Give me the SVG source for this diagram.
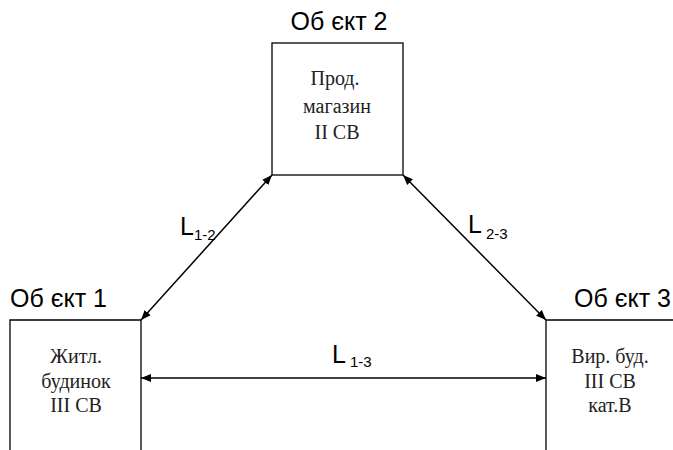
<svg xmlns="http://www.w3.org/2000/svg" width="673" height="450" viewBox="0 0 673 450">
<defs>
<marker id="ah" viewBox="0 0 10 10" refX="10" refY="5" markerWidth="10" markerHeight="10" markerUnits="userSpaceOnUse" orient="auto-start-reverse">
<path d="M0,1 L10,5 L0,9 Z" fill="#000"/>
</marker>
<style>
.box{fill:#fff;stroke:#000;stroke-width:1.3}
.title{font-family:"Liberation Sans",Arial,sans-serif;font-size:25px;fill:#000}
.body{font-family:"Liberation Serif","Times New Roman",serif;font-size:20px;fill:#222;text-anchor:middle}
.lab{font-family:"Liberation Sans",Arial,sans-serif;font-size:25px;fill:#000}
.sub{font-size:15px}
.con{stroke:#000;stroke-width:1.5;fill:none;marker-start:url(#ah);marker-end:url(#ah)}
</style>
</defs>
<rect width="673" height="450" fill="#fff"/>
<g id="node1">
<path class="box" d="M10,450 L10,320 L141,320 L141,450"/>
<text class="title" x="10" y="307">Об єкт 1</text>
<text class="body" x="76" y="363">Житл.</text>
<text class="body" x="76" y="388">будинок</text>
<text class="body" x="76" y="412">III СВ</text>
</g>
<g id="node2">
<rect class="box" x="272" y="43" width="131" height="132"/>
<text class="title" x="339" y="30" text-anchor="middle">Об єкт 2</text>
<text class="body" x="335" y="85">Прод.</text>
<text class="body" x="337" y="113">магазин</text>
<text class="body" x="337" y="139">II СВ</text>
</g>
<g id="node3">
<path class="box" d="M546,450 L546,320 L680,320"/>
<text class="title" x="671" y="307" text-anchor="end">Об єкт 3</text>
<text class="body" x="610" y="363">Вир. буд.</text>
<text class="body" x="610" y="388">III СВ</text>
<text class="body" x="610" y="412">кат.В</text>
</g>
<g id="connectors">
<line class="con" x1="141" y1="320" x2="272" y2="175"/>
<line class="con" x1="403" y1="175" x2="546" y2="320"/>
<line class="con" x1="141" y1="378" x2="546" y2="378"/>
<text class="lab" x="180" y="235">L<tspan class="sub" dy="5">1-2</tspan></text>
<text class="lab" x="468" y="233">L<tspan class="sub" dx="4" dy="6">2-3</tspan></text>
<text class="lab" x="332" y="363">L<tspan class="sub" dx="4" dy="4">1-3</tspan></text>
</g>
</svg>
